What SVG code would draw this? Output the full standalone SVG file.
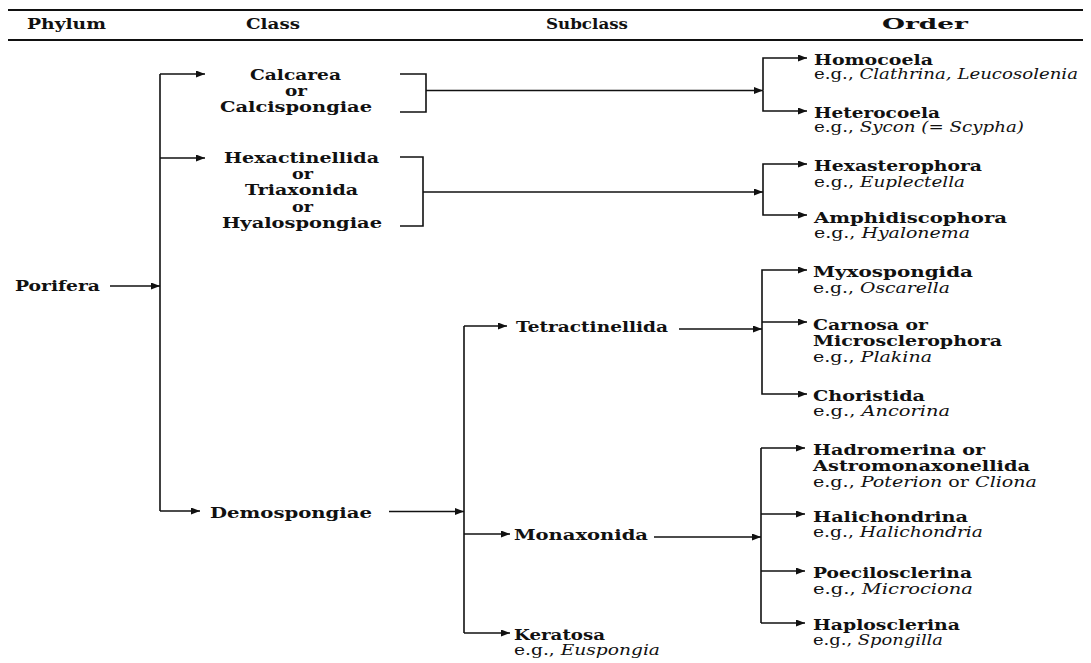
<svg xmlns="http://www.w3.org/2000/svg" width="1091" height="663" viewBox="0 0 1091 663">
<style>
text{font-family:"DejaVu Serif","Liberation Serif",serif;fill:#111;}
.h{font-size:15px;font-weight:bold;}
.c{font-size:15px;font-weight:bold;}
.t{font-size:14.5px;font-weight:bold;}
.e{font-size:14.5px;font-weight:normal;}
.i{font-style:italic;}
.ln{fill:none;stroke:#111;stroke-width:1.6;}
.ar{fill:none;stroke:#111;stroke-width:1.6;marker-end:url(#ah);}
.rule{stroke:#111;stroke-width:2;}
</style>
<defs>
<marker id="ah" markerUnits="userSpaceOnUse" markerWidth="10" markerHeight="8" refX="9" refY="3.5" orient="auto">
<path d="M0,0 L9,3.5 L0,7 z" fill="#111"/>
</marker>
</defs>
<rect width="1091" height="663" fill="#fff"/>
<g id="header">
<line class="rule" x1="8" y1="10" x2="1083" y2="10"/>
<line class="rule" x1="8" y1="40" x2="1083" y2="40"/>
<text class="h" x="27" y="29" textLength="79" lengthAdjust="spacingAndGlyphs">Phylum</text>
<text class="h" x="246" y="29" textLength="54" lengthAdjust="spacingAndGlyphs">Class</text>
<text class="h" x="546" y="29" textLength="82" lengthAdjust="spacingAndGlyphs">Subclass</text>
<text class="h" x="882" y="29" textLength="86" lengthAdjust="spacingAndGlyphs">Order</text>
</g>
<g id="connectors">
<path class="ar" d="M110,286 H160"/>
<path class="ln" d="M160,74 V511"/>
<path class="ar" d="M160,74 H205"/>
<path class="ar" d="M160,158 H205"/>
<path class="ar" d="M160,511 H200"/>
<path class="ln" d="M400,74 H426 V112 H400"/>
<path class="ar" d="M426,90.5 H763"/>
<path class="ar" d="M763,90.5 V58 H807"/>
<path class="ar" d="M763,90.5 V111 H807"/>
<path class="ln" d="M400,157 H423 V226 H400"/>
<path class="ar" d="M423,192 H763"/>
<path class="ar" d="M763,192 V164 H807"/>
<path class="ar" d="M763,192 V215 H807"/>
<path class="ar" d="M679,329 H762"/>
<path class="ar" d="M762,329 V270 H807"/>
<path class="ar" d="M762,322 H807"/>
<path class="ar" d="M762,329 V394 H807"/>
<path class="ar" d="M389,511.5 H464"/>
<path class="ln" d="M464,326 V633"/>
<path class="ar" d="M464,326 H507"/>
<path class="ar" d="M464,534 H510"/>
<path class="ar" d="M464,633 H510"/>
<path class="ar" d="M654,537 H761"/>
<path class="ln" d="M761,448 V623"/>
<path class="ar" d="M761,448 H805"/>
<path class="ar" d="M761,514 H805"/>
<path class="ar" d="M761,571 H805"/>
<path class="ar" d="M761,623 H805"/>
</g>
<g id="porifera"><text class="c" x="15" y="291" textLength="85" lengthAdjust="spacingAndGlyphs">Porifera</text></g>
<g id="calcarea">
<text class="c" x="250" y="80" textLength="91" lengthAdjust="spacingAndGlyphs">Calcarea</text>
<text class="c" x="285" y="96" textLength="22" lengthAdjust="spacingAndGlyphs">or</text>
<text class="c" x="220" y="112" textLength="152" lengthAdjust="spacingAndGlyphs">Calcispongiae</text>
</g>
<g id="hexactinellida">
<text class="c" x="224" y="162.5" textLength="155" lengthAdjust="spacingAndGlyphs">Hexactinellida</text>
<text class="c" x="292" y="178.5" textLength="21" lengthAdjust="spacingAndGlyphs">or</text>
<text class="c" x="245" y="195" textLength="113" lengthAdjust="spacingAndGlyphs">Triaxonida</text>
<text class="c" x="292" y="211.5" textLength="21" lengthAdjust="spacingAndGlyphs">or</text>
<text class="c" x="222" y="227.5" textLength="160" lengthAdjust="spacingAndGlyphs">Hyalospongiae</text>
</g>
<g id="demospongiae"><text class="c" x="210" y="517.5" textLength="162" lengthAdjust="spacingAndGlyphs">Demospongiae</text></g>
<g id="tetractinellida"><text class="c" x="516" y="331.5" textLength="152" lengthAdjust="spacingAndGlyphs">Tetractinellida</text></g>
<g id="monaxonida"><text class="c" x="514" y="540" textLength="134" lengthAdjust="spacingAndGlyphs">Monaxonida</text></g>
<g id="keratosa">
<text class="c" x="514" y="640" textLength="91" lengthAdjust="spacingAndGlyphs">Keratosa</text>
<text class="e" x="514" y="655" textLength="146" lengthAdjust="spacingAndGlyphs">e.g., <tspan class="i">Euspongia</tspan></text>
</g>
<g id="homocoela">
<text class="t" x="814" y="65" textLength="119" lengthAdjust="spacingAndGlyphs">Homocoela</text>
<text class="e" x="814" y="79" textLength="264" lengthAdjust="spacingAndGlyphs">e.g., <tspan class="i">Clathrina, Leucosolenia</tspan></text>
</g>
<g id="heterocoela">
<text class="t" x="814" y="117.5" textLength="126" lengthAdjust="spacingAndGlyphs">Heterocoela</text>
<text class="e" x="814" y="132" textLength="210" lengthAdjust="spacingAndGlyphs">e.g., <tspan class="i">Sycon (= Scypha)</tspan></text>
</g>
<g id="hexasterophora">
<text class="t" x="814" y="171" textLength="168" lengthAdjust="spacingAndGlyphs">Hexasterophora</text>
<text class="e" x="814" y="186.5" textLength="151" lengthAdjust="spacingAndGlyphs">e.g., <tspan class="i">Euplectella</tspan></text>
</g>
<g id="amphidiscophora">
<text class="t" x="814" y="223" textLength="193" lengthAdjust="spacingAndGlyphs">Amphidiscophora</text>
<text class="e" x="814" y="238" textLength="156" lengthAdjust="spacingAndGlyphs">e.g., <tspan class="i">Hyalonema</tspan></text>
</g>
<g id="myxospongida">
<text class="t" x="813" y="277" textLength="160" lengthAdjust="spacingAndGlyphs">Myxospongida</text>
<text class="e" x="813" y="292.5" textLength="137" lengthAdjust="spacingAndGlyphs">e.g., <tspan class="i">Oscarella</tspan></text>
</g>
<g id="carnosa">
<text class="t" x="813" y="330" textLength="115" lengthAdjust="spacingAndGlyphs">Carnosa or</text>
<text class="t" x="813" y="346" textLength="189" lengthAdjust="spacingAndGlyphs">Microsclerophora</text>
<text class="e" x="813" y="362" textLength="119" lengthAdjust="spacingAndGlyphs">e.g., <tspan class="i">Plakina</tspan></text>
</g>
<g id="choristida">
<text class="t" x="813" y="401" textLength="112" lengthAdjust="spacingAndGlyphs">Choristida</text>
<text class="e" x="813" y="416" textLength="137" lengthAdjust="spacingAndGlyphs">e.g., <tspan class="i">Ancorina</tspan></text>
</g>
<g id="hadromerina">
<text class="t" x="813" y="455" textLength="172" lengthAdjust="spacingAndGlyphs">Hadromerina or</text>
<text class="t" x="813" y="471" textLength="217" lengthAdjust="spacingAndGlyphs">Astromonaxonellida</text>
<text class="e" x="813" y="487" textLength="224" lengthAdjust="spacingAndGlyphs">e.g., <tspan class="i">Poterion</tspan> or <tspan class="i">Cliona</tspan></text>
</g>
<g id="halichondrina">
<text class="t" x="813" y="521.5" textLength="155" lengthAdjust="spacingAndGlyphs">Halichondrina</text>
<text class="e" x="813" y="537" textLength="170" lengthAdjust="spacingAndGlyphs">e.g., <tspan class="i">Halichondria</tspan></text>
</g>
<g id="poecilosclerina">
<text class="t" x="813" y="578" textLength="159" lengthAdjust="spacingAndGlyphs">Poecilosclerina</text>
<text class="e" x="813" y="594" textLength="160" lengthAdjust="spacingAndGlyphs">e.g., <tspan class="i">Microciona</tspan></text>
</g>
<g id="haplosclerina">
<text class="t" x="813" y="630" textLength="147" lengthAdjust="spacingAndGlyphs">Haplosclerina</text>
<text class="e" x="813" y="645" textLength="130" lengthAdjust="spacingAndGlyphs">e.g., <tspan class="i">Spongilla</tspan></text>
</g>
</svg>
